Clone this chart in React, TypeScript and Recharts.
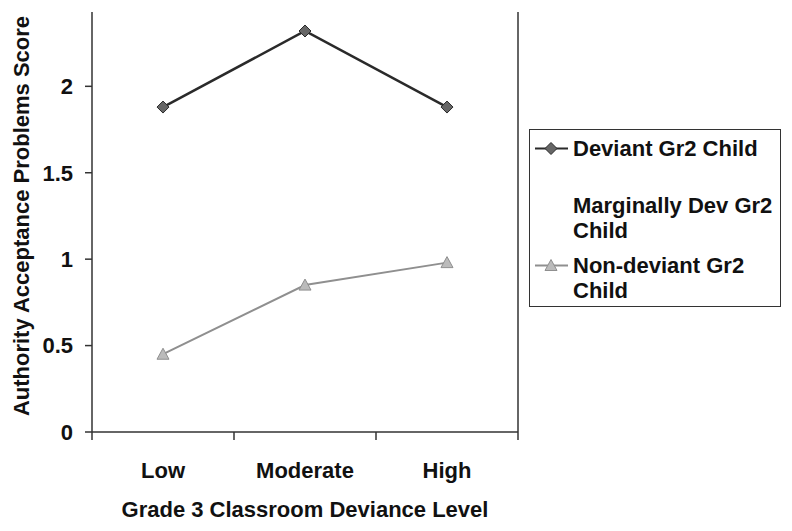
import { LineChart, Line, XAxis, YAxis, ReferenceLine, Legend, Label } from "recharts";

const categories = ["Low", "Moderate", "High"];
const deviant = [1.88, 2.32, 1.88];
const nonDeviant = [0.45, 0.85, 0.98];
const seriesNames = ["Deviant Gr2 Child", "Marginally Dev Gr2 Child", "Non-deviant Gr2 Child"];
const yTicks = [0, 0.5, 1, 1.5, 2];

const data = categories.map((name, i) => ({ name, x: i + 0.5, deviant: deviant[i], nonDeviant: nonDeviant[i] }));
// category boundaries (tick marks) and centres (labels)
const xTicks = categories.flatMap((_, i) => [i, i + 0.5]).concat(categories.length);

const FONT = "'Liberation Sans', Arial, sans-serif";
const FS = 22;
const AXIS = "#333";
const DARK = "#2a2a2a";
const GRAY = "#8f8f8f";

const Diamond = ({ cx, cy }: any) => (
  <path d={`M${cx},${cy - 6}L${cx + 6},${cy}L${cx},${cy + 6}L${cx - 6},${cy}Z`} fill="#666" stroke={DARK} strokeWidth={1} />
);

const Triangle = ({ cx, cy }: any) => (
  <path d={`M${cx},${cy - 6}L${cx + 6},${cy + 5}L${cx - 6},${cy + 5}Z`} fill="#bbb" stroke={GRAY} strokeWidth={1} />
);

const XTick = ({ x, y, payload }: any) => {
  const v = payload.value;
  if (Number.isInteger(v)) {
    return <line x1={x} x2={x} y1={y} y2={y + 8} stroke={AXIS} strokeWidth={1.5} />;
  }
  return (
    <text x={x} y={y + 46} textAnchor="middle" fontFamily={FONT} fontWeight={700} fontSize={FS} fill="#111">
      {categories[Math.floor(v)]}
    </text>
  );
};

const YTitle = ({ viewBox }: any) => {
  const cx = 29;
  const cy = viewBox.y + viewBox.height / 2 - 6;
  return (
    <text x={cx} y={cy} transform={`rotate(-90, ${cx}, ${cy})`} textAnchor="middle" fontFamily={FONT} fontWeight={700} fontSize={FS} fill="#111">
      Authority Acceptance Problems Score
    </text>
  );
};

const legendMarker = (i: number) => {
  if (i === 0) return (<g><line x1={0} x2={33} y1={12.5} y2={12.5} stroke={DARK} strokeWidth={2} /><Diamond cx={16} cy={12.5} /></g>);
  if (i === 2) return (<g><line x1={0} x2={33} y1={12.5} y2={12.5} stroke={GRAY} strokeWidth={2} /><Triangle cx={16} cy={12.5} /></g>);
  return null;
};

const renderLegend = () => (
  <div style={{ border: "1.5px solid #333", width: 252, height: 178, boxSizing: "border-box", fontFamily: FONT, fontWeight: 700, fontSize: FS, color: "#111", lineHeight: "25px", paddingTop: 6, background: "#fff" }}>
    {seriesNames.map((name, i) => (
      <div key={name} style={{ display: "flex", alignItems: "flex-start", marginTop: i === 0 ? 0 : i === 1 ? 32 : 10 }}>
        <svg width={38} height={25} style={{ flex: "none", marginLeft: 5 }}>{legendMarker(i)}</svg>
        <div style={{ width: 205 }}>{name}</div>
      </div>
    ))}
  </div>
);

export default function App() {
  return (
    <div style={{ position: "absolute", left: 0, top: 0, width: 792, height: 531, background: "#fff" }}>
      <LineChart width={792} height={531} data={data} margin={{ top: 12, right: 274, bottom: 0, left: 0 }}>
        <XAxis
          dataKey="x"
          type="number"
          domain={[0, categories.length]}
          ticks={xTicks}
          interval={0}
          height={99}
          tickSize={0}
          tickMargin={0}
          tickLine={false}
          tick={<XTick />}
          axisLine={{ stroke: AXIS, strokeWidth: 1.5 }}
        >
          <Label value="Grade 3 Classroom Deviance Level" position="insideBottom" offset={14} fontFamily={FONT} fontWeight={700} fontSize={FS} fill="#111" />
        </XAxis>
        <YAxis
          type="number"
          domain={[0, 2.43]}
          ticks={yTicks}
          width={92}
          tickSize={7}
          tickMargin={12}
          tick={{ fontFamily: FONT, fontWeight: 700, fontSize: FS, fill: "#111" }}
          tickLine={{ stroke: AXIS, strokeWidth: 1.5 }}
          axisLine={{ stroke: AXIS, strokeWidth: 1.5 }}
        >
          <Label content={<YTitle />} />
        </YAxis>
        <ReferenceLine x={categories.length} stroke={AXIS} strokeWidth={1.5} />
        <Legend layout="vertical" align="center" verticalAlign="middle" wrapperStyle={{ left: 529, top: 129, width: 252 }} content={renderLegend} />
        <Line dataKey="deviant" name={seriesNames[0]} stroke={DARK} strokeWidth={2.5} dot={<Diamond />} isAnimationActive={false} />
        <Line dataKey="nonDeviant" name={seriesNames[2]} stroke={GRAY} strokeWidth={2} dot={<Triangle />} isAnimationActive={false} />
      </LineChart>
    </div>
  );
}
